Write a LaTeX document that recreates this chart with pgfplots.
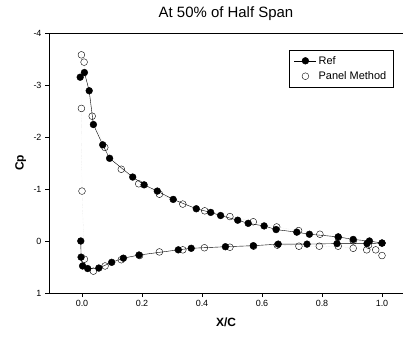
\documentclass[border=0pt]{standalone}
\usepackage{fontspec}
\setmainfont{Liberation Sans}
\usepackage{pgfplots}
\usepackage{pgfplotstable}
\pgfplotsset{compat=1.18}
\pgfplotstableread{
x cp
1.000 0.04
0.958 0.00
0.904 -0.03
0.854 -0.08
0.758 -0.13
0.716 -0.17
0.647 -0.22
0.607 -0.29
0.554 -0.34
0.519 -0.40
0.462 -0.49
0.429 -0.55
0.381 -0.62
0.304 -0.80
0.251 -0.96
0.207 -1.08
0.169 -1.23
0.092 -1.59
0.069 -1.85
0.038 -2.24
0.024 -2.89
0.008 -3.24
-0.006 -3.15
}\refupper
\pgfplotstableread{
x cp
-0.004 0.00
-0.003 0.31
0.002 0.48
0.019 0.53
0.056 0.52
0.099 0.41
0.138 0.33
0.190 0.27
0.321 0.17
0.364 0.14
0.478 0.11
0.571 0.09
0.654 0.06
0.750 0.06
0.850 0.05
0.950 0.05
1.000 0.04
}\reflower
\pgfplotstableread{
x cp
0.955 0.08
0.904 0.00
0.854 -0.07
0.793 -0.13
0.722 -0.20
0.649 -0.27
0.571 -0.37
0.493 -0.47
0.409 -0.58
0.336 -0.71
0.258 -0.90
0.189 -1.10
0.131 -1.38
0.076 -1.80
0.034 -2.40
0.007 -3.44
-0.002 -3.58
-0.002 -2.55
0.000 -0.96
0.008 0.35
0.038 0.58
0.077 0.48
0.131 0.36
0.192 0.28
0.258 0.21
0.336 0.17
0.408 0.13
0.493 0.12
0.572 0.10
0.651 0.08
0.723 0.10
0.791 0.10
0.854 0.10
0.904 0.14
0.949 0.17
0.979 0.17
1.000 0.28
}\paneldata
\begin{document}
\begin{tikzpicture}[x=1bp,y=1bp]
\path[use as bounding box] (0,0) rectangle (406,339);
\begin{axis}[
  at={(49bp,46bp)}, anchor=south west,
  scale only axis, width=354bp, height=260bp,
  xmin=-0.11, xmax=1.07, ymin=-4, ymax=1, y dir=reverse,
  axis x line*=box, axis y line*=left,
  xtick={0,0.2,...,1.0}, ytick={-4,-3,-2,-1,0,1},
  xtick pos=left, ytick pos=left,
  tick align=outside, major tick length=4bp,
  every tick/.style={black, thin},
  axis line style={black, thin},
  xticklabel style={/pgf/number format/.cd, fixed, fixed zerofill, precision=1},
  /pgf/number format/assume math mode=true,
  ticklabel style={font=\fontsize{9}{11}\selectfont},
  xlabel={\textbf{X/C}}, ylabel={\textbf{Cp}},
  label style={font=\fontsize{12}{14}\selectfont},
  xlabel style={at={(axis description cs:0.5,-0.112)}, anchor=center},
  ylabel style={at={(axis description cs:-0.08,0.5)}, anchor=center},
  every axis title shift/.style={},
  title={At 50\% of Half Span},
  title style={at={(axis description cs:0.5,1.05)}, anchor=center, font=\fontsize{15}{17}\selectfont},
  legend style={at={(0.678,0.935)}, anchor=north west, draw=black, thin,
    font=\fontsize{11}{13}\selectfont, row sep=2bp, inner xsep=5bp, inner ysep=4bp},
  legend cell align=left,
  clip=false,
]
\addplot[gray!60, very thin, densely dotted, forget plot] table[x=x,y=cp] {\paneldata};
\addplot[black, thin, mark=*, mark size=3.4bp, mark options={fill=black},
  legend image code/.code={\draw (0bp,0bp) -- (22bp,0bp); \draw plot[only marks] coordinates {(11bp,0bp)};}] table[x=x,y=cp] {\refupper};
\addlegendentry{Ref}
\addplot[black, thin, mark=*, mark size=3.4bp, mark options={fill=black}, forget plot] table[x=x,y=cp] {\reflower};
\addplot[only marks, mark=o, mark size=3.4bp, mark options={black, fill=white, thin},
  legend image code/.code={\path[draw=none] (0bp,0bp) -- (22bp,0bp); \path plot[only marks] coordinates {(11bp,0bp)};}] table[x=x,y=cp] {\paneldata};
\addlegendentry{Panel Method}
\end{axis}
\end{tikzpicture}
\end{document}
